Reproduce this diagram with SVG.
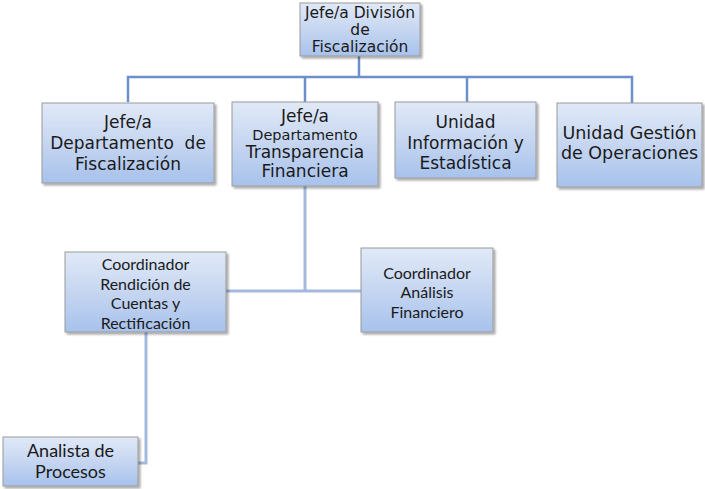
<svg xmlns="http://www.w3.org/2000/svg" width="705" height="489" viewBox="0 0 705 489">
<defs>
<linearGradient id="g" x1="0" y1="0" x2="0" y2="1">
<stop offset="0" stop-color="#E0E9F7"/>
<stop offset="0.5" stop-color="#C6D6F1"/>
<stop offset="1" stop-color="#A7C2EC"/>
</linearGradient>
<filter id="sh" x="-10%" y="-10%" width="125%" height="130%">
<feGaussianBlur in="SourceAlpha" stdDeviation="1.2"/>
<feOffset dx="1.5" dy="2" result="b"/>
<feComponentTransfer><feFuncA type="linear" slope="0.35"/></feComponentTransfer>
<feMerge><feMergeNode/><feMergeNode in="SourceGraphic"/></feMerge>
</filter>
</defs>
<style>
.box{fill:url(#g);stroke:#9A9A9A;stroke-width:1;filter:url(#sh)}
.v{font-family:"DejaVu Sans",Verdana,sans-serif;fill:#1a1a1a;text-anchor:middle}
.c{font-family:Lato,"Liberation Sans",sans-serif;fill:#1a1a1a;text-anchor:middle}
.top{fill:none;stroke:#6D8FCA;stroke-width:2.5}
.low{fill:none;stroke:#A4B9DE;stroke-width:3}
</style>
<rect width="705" height="489" fill="#FFFFFF"/>
<g id="connectors">
<path class="top" d="M359 56V77M128 102V77H632V103M305 77V102M467 77V102"/>
<path class="low" d="M305 186V291M226 291H361M146 332V463H138"/>
</g>
<g id="n-division">
<rect class="box" x="300" y="3" width="120" height="53"/>
<text class="v" font-size="15.5" x="360"><tspan x="360" y="18">Jefe/a División</tspan><tspan x="360" y="35">de</tspan><tspan x="360" y="52">Fiscalización</tspan></text>
</g>
<g id="n-dep-fisc">
<rect class="box" x="42" y="103" width="172" height="80"/>
<text class="v" font-size="17" x="128"><tspan x="128" y="128">Jefe/a</tspan><tspan x="128" y="149" xml:space="preserve">Departamento  de</tspan><tspan x="128" y="170">Fiscalización</tspan></text>
</g>
<g id="n-dep-transp">
<rect class="box" x="232" y="102" width="146" height="84"/>
<text class="v" x="305"><tspan x="305" y="122" font-size="17">Jefe/a</tspan><tspan x="305" y="140" font-size="14.5">Departamento</tspan><tspan x="305" y="158" font-size="17">Transparencia</tspan><tspan x="305" y="177" font-size="17">Financiera</tspan></text>
</g>
<g id="n-unidad-info">
<rect class="box" x="395" y="102" width="141" height="76"/>
<text class="v" font-size="17" x="465.5"><tspan x="465.5" y="128">Unidad</tspan><tspan x="465.5" y="149">Información y</tspan><tspan x="465.5" y="169">Estadística</tspan></text>
</g>
<g id="n-unidad-gest">
<rect class="box" x="557" y="103" width="145" height="84"/>
<text class="v" font-size="17.5" x="629.5"><tspan x="629.5" y="139">Unidad Gestión</tspan><tspan x="629.5" y="159">de Operaciones</tspan></text>
</g>
<g id="n-coord-rend">
<rect class="box" x="65" y="252" width="161" height="80"/>
<text class="c" font-size="16" x="145.5"><tspan x="145.5" y="270">Coordinador</tspan><tspan x="145.5" y="289.5">Rendición de</tspan><tspan x="145.5" y="309">Cuentas y</tspan><tspan x="145.5" y="328.5">Rectificación</tspan></text>
</g>
<g id="n-coord-anal">
<rect class="box" x="361" y="248" width="132" height="84"/>
<text class="c" font-size="16" x="427"><tspan x="427" y="278.5">Coordinador</tspan><tspan x="427" y="298">Análisis</tspan><tspan x="427" y="317.5">Financiero</tspan></text>
</g>
<g id="n-analista">
<rect class="box" x="3" y="437" width="135" height="49"/>
<text class="c" font-size="18" x="70.5"><tspan x="70.5" y="457">Analista de</tspan><tspan x="70.5" y="478">Procesos</tspan></text>
</g>
</svg>
